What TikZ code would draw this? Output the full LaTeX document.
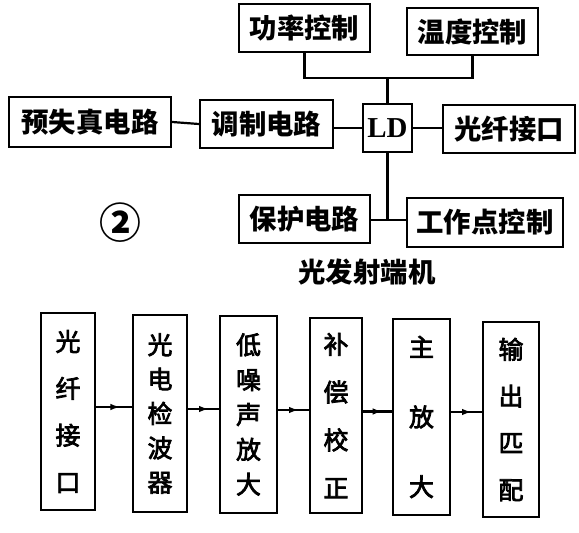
\documentclass[tikz,border=0pt]{standalone}
\usepackage{fontspec}
\setmainfont{Liberation Serif}
\newfontfamily\cjk{Noto Sans CJK SC}
\newfontfamily\cjkm[FakeBold=3]{Noto Sans CJK SC}
\usetikzlibrary{arrows.meta,decorations.markings}
\begin{document}
\begin{tikzpicture}[x=1bp,y=-1bp,
  box/.style={draw,line width=2.2bp,inner sep=0pt,font=\cjk\bfseries\fontsize{27.5}{30}\selectfont},
  vbox/.style={draw,line width=2.2bp,inner sep=0pt,align=center,font=\cjkm\fontsize{25}{#1}\selectfont},
  wire/.style={line width=2.2bp},
  midarrow/.style={wire,postaction={decorate},decoration={markings,mark=at position 0.68 with {\arrow{Latex[length=10bp,width=6.5bp]}}}}]
\useasboundingbox (0,0) rectangle (579,533);

% transmitter
\node[box, minimum width=131bp, minimum height=48bp] (pwr) at (304.5,28) {功率控制};
\node[box, minimum width=131bp, minimum height=47bp] (tmp) at (472.5,31.5) {温度控制};
\node[box, minimum width=49bp, minimum height=48bp, font=\bfseries\fontsize{29}{32}\selectfont] (ld) at (387.5,128) {LD};
\node[box, minimum width=162bp, minimum height=50bp] (pre) at (90,122) {预失真电路};
\node[box, minimum width=133bp, minimum height=48bp] (mod) at (266.5,124) {调制电路};
\node[box, minimum width=132bp, minimum height=48bp] (fib) at (509,129) {光纤接口};
\node[box, minimum width=131bp, minimum height=48bp] (pro) at (304.5,219) {保护电路};
\node[box, minimum width=156bp, minimum height=49bp] (wp) at (485,222.5) {工作点控制};
\node[font=\cjk\bfseries\fontsize{42}{44}\selectfont, inner sep=0pt] (num) at (120,223) {②};
\node[font=\cjk\bfseries\fontsize{27.5}{30}\selectfont, inner sep=0pt] (title) at (367,272) {光发射端机};

\coordinate (j1) at (ld.north |- {(0,78)});
\coordinate (j2) at (ld.south |- {(0,220)});
\draw[wire] (pwr.south) |- (j1) -| (tmp.south);
\draw[wire] (ld.north) -- (j1);
\draw[wire] (pre.east) -- (mod.west);
\draw[wire] (ld.west) -- (ld.west -| mod.east);
\draw[wire] (ld.east) -- (ld.east -| fib.west);
\draw[wire] (ld.south) -- (j2);
\draw[wire] (pro.east |- j2) -- (wp.west |- j2);

% receiver
\node[vbox=47, minimum width=54bp, minimum height=197bp] (b1) at (68,411.5) {光\\纤\\接\\口};
\node[vbox=34.5, minimum width=54bp, minimum height=197bp] (b2) at (160,413.5) {光\\电\\检\\波\\器};
\node[vbox=35, minimum width=57bp, minimum height=197bp] (b3) at (248.5,414.5) {低\\噪\\声\\放\\大};
\node[vbox=48, minimum width=52bp, minimum height=195bp] (b4) at (336,415.5) {补\\偿\\校\\正};
\node[vbox=70, minimum width=57bp, minimum height=196bp] (b5) at (421.5,417) {主\\放\\大};
\node[vbox=47, minimum width=56bp, minimum height=195bp] (b6) at (511,419.5) {输\\出\\匹\\配};

\draw[midarrow] ([yshift=4.5bp]b1.east) -- ([yshift=4.5bp]b1.east -| b2.west);
\draw[midarrow] ([yshift=4.5bp]b2.east) -- ([yshift=4.5bp]b2.east -| b3.west);
\draw[midarrow] ([yshift=4.5bp]b3.east) -- ([yshift=4.5bp]b3.east -| b4.west);
\draw[midarrow] ([yshift=4bp]b4.east) -- ([yshift=4bp]b4.east -| b5.west);
\draw[midarrow] ([yshift=5bp]b5.east) -- ([yshift=5bp]b5.east -| b6.west);
\end{tikzpicture}
\end{document}
